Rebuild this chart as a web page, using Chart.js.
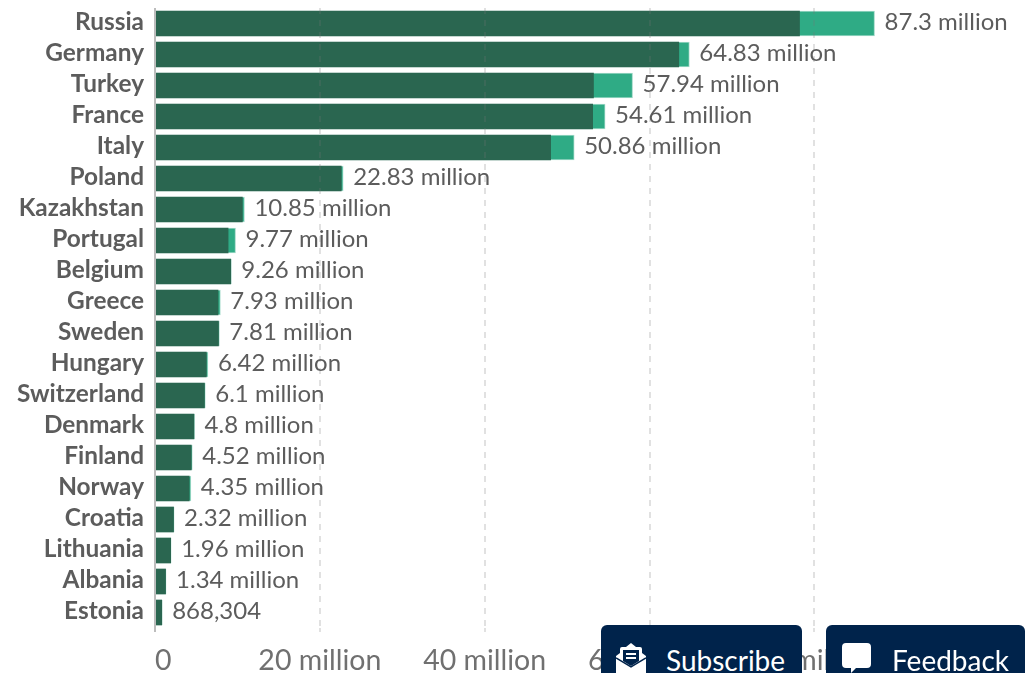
<!DOCTYPE html>
<html>
<head>
<meta charset="utf-8">
<title>Countries</title>
<style>
  html, body { margin: 0; padding: 0; background: #fff; overflow: hidden; }
  #wrap { position: relative; width: 1025px; height: 673px; overflow: hidden; }
  canvas { display: block; }
  .btn {
    position: absolute;
    top: 625px;
    height: 70px;
    background: #00234b;
    border-radius: 6px;
    color: #fff;
    font: 28px Lato, sans-serif;
  }
  .btn svg { position: absolute; top: 18px; }
  .btn span { position: absolute; top: 17px; line-height: 36px; white-space: nowrap; }
</style>
</head>
<body>
<div id="wrap">
  <canvas id="myBarChart" width="1025" height="673"></canvas>
  <div class="btn" style="left:601px;width:201px">
    <svg style="left:15px" width="30" height="30" viewBox="0 0 30 30">
      <path fill="#fff" d="M15 0l5 4h4a2 2 0 0 1 2 2v4l4 3v17H0V13l4-3V6a2 2 0 0 1 2-2h4z"/>
      <path fill="#00234b" d="M7 7h16v11l-8 5-8-5z"/>
      <path fill="#fff" d="M10 10h10v2H10zM10 14h10v2H10z"/>
      <path fill="none" stroke="#00234b" stroke-width="1.5" d="M0 15l15 9 15-9"/>
    </svg>
    <span style="left:65px">Subscribe</span>
  </div>
  <div class="btn" style="left:826px;width:199px">
    <svg style="left:16px" width="29" height="30" viewBox="0 0 29 30">
      <path fill="#fff" d="M4 0h21a4 4 0 0 1 4 4v17a4 4 0 0 1-4 4H14l-5 5v-5H4a4 4 0 0 1-4-4V4a4 4 0 0 1 4-4z"/>
    </svg>
    <span style="left:66px">Feedback</span>
  </div>
</div>

<script src="https://cdn.jsdelivr.net/npm/chart.js@4"></script>
<script>
const countries = ["Russia", "Germany", "Turkey", "France", "Italy", "Poland", "Kazakhstan", "Portugal", "Belgium", "Greece", "Sweden", "Hungary", "Switzerland", "Denmark", "Finland", "Norway", "Croatia", "Lithuania", "Albania", "Estonia"];
const totalValues = [87300000, 64830000, 57940000, 54610000, 50860000, 22830000, 10850000, 9770000, 9260000, 7930000, 7810000, 6420000, 6100000, 4800000, 4520000, 4350000, 2320000, 1960000, 1340000, 868304];
const darkValues = [78200000, 63550000, 53200000, 53100000, 48000000, 22600000, 10600000, 8870000, 9190000, 7650000, 7700000, 6230000, 6000000, 4720000, 4400000, 4150000, 2250000, 1900000, 1280000, 820000];
const axisTicks = [0, 20000000, 40000000, 60000000, 80000000];

const textColor = "#5c5c5c";
const axisTextColor = "#707070";
const gridColor = "rgba(120, 120, 120, 0.22)";
const zeroLineColor = "#bdbdbd";

function formatValue(v) {
  if (v >= 1000000) return v / 1000000 + " million";
  return v.toLocaleString("en-US");
}

function isZeroTick(c) {
  return c.tick && c.tick.value === 0;
}

// writes the total next to each bar, and the 0 which sits right of the axis line
const barLabels = {
  id: "barLabels",
  afterDraw(chart) {
    const ctx = chart.ctx;
    const meta = chart.getDatasetMeta(0);
    ctx.save();
    ctx.font = "24px Lato";
    ctx.fillStyle = textColor;
    ctx.textAlign = "left";
    ctx.textBaseline = "middle";
    meta.data.forEach(function (bar, i) {
      ctx.fillText(formatValue(totalValues[i]), bar.x + 10, bar.y - 1.5);
    });
    ctx.font = "28.5px Lato";
    ctx.fillStyle = axisTextColor;
    ctx.fillText("0", chart.scales.x.getPixelForValue(0), 661);
    ctx.restore();
  },
};

const ctx = document.getElementById("myBarChart").getContext("2d");
const myBarChart = new Chart(ctx, {
  type: "bar",
  data: {
    labels: countries,
    datasets: [
      {
        label: "Total",
        data: totalValues,
        backgroundColor: "#2fab85",
        borderColor: "rgba(47, 171, 133, 0.45)",
        borderWidth: 1,
        order: 2,
      },
      {
        label: "Main",
        data: darkValues,
        backgroundColor: "#2a6650",
        order: 1,
      },
    ],
  },
  options: {
    indexAxis: "y",
    responsive: false,
    animation: false,
    grouped: false,
    barThickness: 25,
    layout: { autoPadding: false, padding: { top: 8, right: 87, left: 0, bottom: 0 } },
    plugins: {
      legend: { display: false },
      tooltip: { enabled: false },
    },
    scales: {
      x: {
        min: 0,
        max: 95000000,
        afterBuildTicks(scale) {
          scale.ticks = axisTicks.map((v) => ({ value: v }));
        },
        afterFit(scale) {
          scale.height = 45;
        },
        grid: {
          z: 1,
          lineWidth: 2,
          color: (c) => (isZeroTick(c) ? zeroLineColor : gridColor),
          tickColor: (c) => (isZeroTick(c) ? zeroLineColor : gridColor),
          tickLength: 4,
          tickBorderDash: (c) => (isZeroTick(c) ? [] : [6, 6]),
        },
        border: {
          display: false,
          dash: (c) => (isZeroTick(c) ? [] : [6, 6]),
        },
        ticks: {
          autoSkip: false,
          maxRotation: 0,
          padding: 12,
          color: axisTextColor,
          font: { family: "Lato", size: 28.5 },
          callback: (v) => (v === 0 ? "" : v / 1000000 + " million"),
        },
      },
      y: {
        afterFit(scale) {
          // no room reserved for half a label above and below the rows
          scale.width = 155;
          scale.paddingTop = 0;
          scale.paddingBottom = 0;
        },
        grid: { display: false, drawTicks: false },
        border: { display: false },
        ticks: {
          autoSkip: false,
          padding: 11,
          labelOffset: -1,
          color: textColor,
          font: { family: "Lato", size: 24.4, weight: "bold" },
        },
      },
    },
  },
  plugins: [barLabels],
});
</script>
</body>
</html>
